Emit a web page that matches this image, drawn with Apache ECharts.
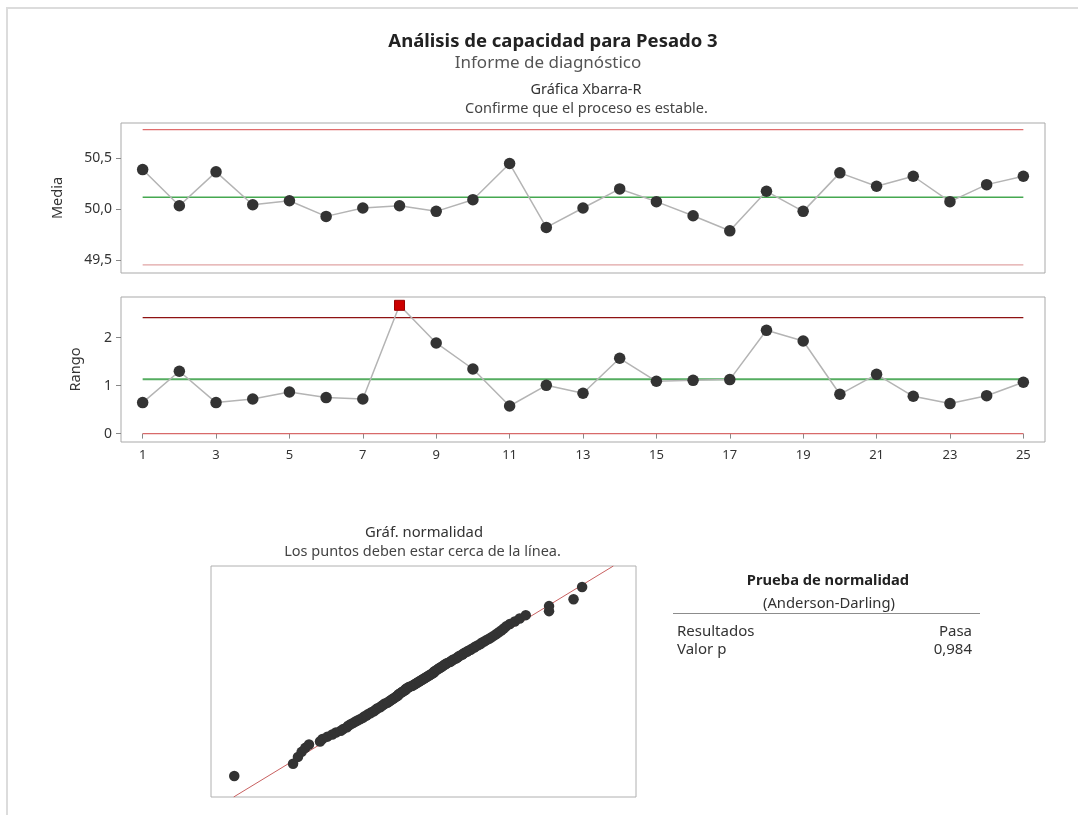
<!DOCTYPE html>
<html>
<head>
<meta charset="utf-8">
<script src="https://cdn.jsdelivr.net/npm/echarts@6/dist/echarts.min.js"></script>
<style>
html,body{margin:0;padding:0;background:#fff;}
#chart{width:1078px;height:815px;}
</style>
</head>
<body>
<div id="chart"></div>
<script>
// ---- Data ----
const subgroups = [1,2,3,4,5,6,7,8,9,10,11,12,13,14,15,16,17,18,19,20,21,22,23,24,25];
const xbarValues = [50.385, 50.032, 50.363, 50.042, 50.081, 49.928, 50.010, 50.032, 49.977, 50.091,
                    50.444, 49.820, 50.010, 50.196, 50.072, 49.934, 49.787, 50.173, 49.977, 50.353,
                    50.222, 50.320, 50.072, 50.238, 50.320];
const rangeValues = [0.646, 1.298, 0.646, 0.721, 0.867, 0.750, 0.721, 2.673, 1.888, 1.346,
                     0.575, 1.006, 0.840, 1.569, 1.090, 1.110, 1.125, 2.152, 1.930, 0.819,
                     1.235, 0.777, 0.625, 0.790, 1.069];
const xbarLimits = {ucl: 50.775, cl: 50.114, lcl: 49.454};
const rangeLimits = {ucl: 2.417, cl: 1.131, lcl: 0};
const xbarTicks = [49.5, 50.0, 50.5];
const rangeTicks = [0, 1, 2];
const xTicks = [1,3,5,7,9,11,13,15,17,19,21,23,25];
// individual observations (sorted) for the normality plot
const sampleValues = [
 48.57, 49.05, 49.09, 49.12, 49.15, 49.18, 49.27, 49.29, 49.33, 49.37,
 49.40, 49.44, 49.46, 49.49, 49.50, 49.52, 49.54, 49.56, 49.58, 49.60,
 49.62, 49.63, 49.65, 49.66, 49.68, 49.69, 49.71, 49.72, 49.73, 49.74,
 49.76, 49.77, 49.78, 49.79, 49.80, 49.82, 49.83, 49.84, 49.85, 49.86,
 49.87, 49.88, 49.89, 49.90, 49.91, 49.91, 49.92, 49.93, 49.94, 49.95,
 49.96, 49.97, 49.97, 49.98, 49.99, 50.00, 50.02, 50.03, 50.04, 50.05,
 50.06, 50.07, 50.08, 50.09, 50.10, 50.11, 50.12, 50.13, 50.14, 50.15,
 50.16, 50.17, 50.18, 50.19, 50.20, 50.20, 50.21, 50.22, 50.23, 50.24,
 50.25, 50.26, 50.27, 50.28, 50.29, 50.30, 50.31, 50.33, 50.34, 50.35,
 50.36, 50.38, 50.39, 50.40, 50.41, 50.43, 50.44, 50.45, 50.47, 50.48,
 50.50, 50.51, 50.53, 50.54, 50.56, 50.58, 50.59, 50.61, 50.63, 50.65,
 50.67, 50.69, 50.71, 50.73, 50.75, 50.77, 50.79, 50.82, 50.86, 50.90,
 50.95, 51.14, 51.14, 51.34, 51.41];
const fitMean = 50.115, fitSigma = 0.5;
const normTest = {result: 'Pasa', pValue: '0,984'};

// ---- helpers ----
function invNorm(p){
  const a=[-3.969683028665376e+01,2.209460984245205e+02,-2.759285104469687e+02,1.383577518672690e+02,-3.066479806614716e+01,2.506628277459239e+00];
  const b=[-5.447609879822406e+01,1.615858368580409e+02,-1.556989798598866e+02,6.680131188771972e+01,-1.328068155288572e+01];
  const c=[-7.784894002430293e-03,-3.223964580411365e-01,-2.400758277161838e+00,-2.549732539343734e+00,4.374664141464968e+00,2.938163982698783e+00];
  const d=[7.784695709041462e-03,3.224671290700398e-01,2.445134137142996e+00,3.754408661907416e+00];
  const pl=0.02425; let q,r;
  if(p<pl){q=Math.sqrt(-2*Math.log(p));return (((((c[0]*q+c[1])*q+c[2])*q+c[3])*q+c[4])*q+c[5])/((((d[0]*q+d[1])*q+d[2])*q+d[3])*q+1);}
  if(p<=1-pl){q=p-0.5;r=q*q;return (((((a[0]*r+a[1])*r+a[2])*r+a[3])*r+a[4])*r+a[5])*q/(((((b[0]*r+b[1])*r+b[2])*r+b[3])*r+b[4])*r+1);}
  q=Math.sqrt(-2*Math.log(1-p));return -(((((c[0]*q+c[1])*q+c[2])*q+c[3])*q+c[4])*q+c[5])/((((d[0]*q+d[1])*q+d[2])*q+d[3])*q+1);
}
const n = sampleValues.length;
const normData = sampleValues.slice().sort((a,b)=>a-b).map((v,i)=>[v, invNorm((i+1-0.3)/(n+0.4))]);
const zLo = -3.1, zHi = 3.1;
const fitLine = [[fitMean + fitSigma*zLo, zLo],[fitMean + fitSigma*zHi, zHi]];

const FONT = '"Noto Sans", "Open Sans", sans-serif';
const comma1 = v => v.toFixed(1).replace('.', ',');
const first = subgroups[0], last = subgroups[subgroups.length-1];
const hline = (val, color, xi, yi, w) => ({
  type:'line', xAxisIndex:xi, yAxisIndex:yi, data:[[first,val],[last,val]],
  symbol:'none', silent:true, lineStyle:{color:color, width:w||1.5}, z:2
});

const chart = echarts.init(document.getElementById('chart'), null, {renderer:'canvas'});
const frameColor = '#a9a9a9';
const labelStyle = {color:'#333', fontFamily:FONT, fontSize:14};

const rangeData = subgroups.map((s,i)=>{
  const v = rangeValues[i];
  if (v > rangeLimits.ucl) {
    return {value:[s,v], symbol:'rect', symbolSize:10, itemStyle:{color:'#cc0000', borderColor:'#990000', borderWidth:1}};
  }
  return [s,v];
});

const option = {
  animation:false,
  backgroundColor:'#fff',
  textStyle:{fontFamily:FONT},
  grid:[
    {left:121, top:123, width:924, height:150, show:true, borderColor:frameColor, borderWidth:1, backgroundColor:'transparent', outerBoundsMode:'none'},
    {left:121, top:297, width:924, height:145, show:true, borderColor:frameColor, borderWidth:1, backgroundColor:'transparent', outerBoundsMode:'none'},
    {left:211, top:566, width:425, height:231, show:true, borderColor:'#b0b0b0', borderWidth:1, backgroundColor:'transparent', outerBoundsMode:'none'}
  ],
  xAxis:[
    {type:'value', gridIndex:0, min:0.41, max:25.59, axisLine:{show:false}, axisTick:{show:false}, axisLabel:{show:false}, splitLine:{show:false}},
    {type:'value', gridIndex:1, min:0.41, max:25.59, axisLine:{show:false},
      axisTick:{show:true, length:5, customValues:xTicks, lineStyle:{color:'#888'}},
      axisLabel:{show:true, customValues:xTicks, margin:7, ...labelStyle, fontSize:13},
      splitLine:{show:false}},
    {type:'value', gridIndex:2, min:48.38, max:51.85, axisLine:{show:false}, axisTick:{show:false}, axisLabel:{show:false}, splitLine:{show:false}}
  ],
  yAxis:[
    {type:'value', gridIndex:0, min:49.375, max:50.84, axisLine:{show:false},
      axisTick:{show:true, length:5, customValues:xbarTicks, lineStyle:{color:'#888'}},
      axisLabel:{show:true, customValues:xbarTicks, formatter:comma1, margin:9, ...labelStyle},
      splitLine:{show:false},
      name:'Media', nameLocation:'middle', nameGap:56, nameRotate:90,
      nameTextStyle:{color:'#333', fontFamily:FONT, fontSize:14.5}},
    {type:'value', gridIndex:1, min:-0.175, max:2.846, axisLine:{show:false},
      axisTick:{show:true, length:5, customValues:rangeTicks, lineStyle:{color:'#888'}},
      axisLabel:{show:true, customValues:rangeTicks, margin:9, ...labelStyle},
      splitLine:{show:false},
      name:'Rango', nameLocation:'middle', nameGap:38, nameRotate:90,
      nameTextStyle:{color:'#333', fontFamily:FONT, fontSize:14.5}},
    {type:'value', gridIndex:2, min:zLo, max:zHi, axisLine:{show:false}, axisTick:{show:false}, axisLabel:{show:false}, splitLine:{show:false}}
  ],
  series:[
    hline(xbarLimits.ucl, '#e06c6c', 0, 0, 1.2),
    hline(xbarLimits.lcl, '#e0a4a4', 0, 0, 1.2),
    hline(xbarLimits.cl, '#45a850', 0, 0, 1.5),
    {type:'line', xAxisIndex:0, yAxisIndex:0, data:subgroups.map((s,i)=>[s,xbarValues[i]]),
      symbol:'circle', symbolSize:11.5, itemStyle:{color:'#333'}, lineStyle:{color:'#b4b4b4', width:1.5}, z:5, silent:true},
    hline(rangeLimits.ucl, '#8e1212', 1, 1, 1.3),
    hline(rangeLimits.lcl, '#d86a6a', 1, 1, 1.3),
    hline(rangeLimits.cl, '#55ad60', 1, 1, 2),
    {type:'line', xAxisIndex:1, yAxisIndex:1, data:rangeData,
      symbol:'circle', symbolSize:11.5, itemStyle:{color:'#333'}, lineStyle:{color:'#b4b4b4', width:1.5}, z:5, silent:true},
    {type:'line', xAxisIndex:2, yAxisIndex:2, data:fitLine, symbol:'none', silent:true,
      lineStyle:{color:'#c86060', width:1}, z:2},
    {type:'scatter', xAxisIndex:2, yAxisIndex:2, data:normData, symbol:'circle', symbolSize:10.5,
      itemStyle:{color:'#333', opacity:1}, z:5, silent:true}
  ],
  graphic:[
    {type:'rect', silent:true, shape:{x:7, y:8, width:1200, height:900}, style:{fill:'none', stroke:'#dcdcdc', lineWidth:2}},
    {type:'text', silent:true, x:553, y:41.5, style:{text:'Análisis de capacidad para Pesado 3', font:'bold 18.5px '+FONT, fill:'#222', align:'center', verticalAlign:'middle'}},
    {type:'text', silent:true, x:548, y:63, style:{text:'Informe de diagnóstico', font:'17px '+FONT, fill:'#555', align:'center', verticalAlign:'middle'}},
    {type:'text', silent:true, x:586, y:90, style:{text:'Gráfica Xbarra-R', font:'14.5px '+FONT, fill:'#333', align:'center', verticalAlign:'middle'}},
    {type:'text', silent:true, x:586.5, y:108.5, style:{text:'Confirme que el proceso es estable.', font:'14.5px '+FONT, fill:'#444', align:'center', verticalAlign:'middle'}},
    {type:'text', silent:true, x:424, y:532.5, style:{text:'Gráf. normalidad', font:'14.8px '+FONT, fill:'#333', align:'center', verticalAlign:'middle'}},
    {type:'text', silent:true, x:422.5, y:551.5, style:{text:'Los puntos deben estar cerca de la línea.', font:'14.5px '+FONT, fill:'#444', align:'center', verticalAlign:'middle'}},
    {type:'text', silent:true, x:828, y:580.5, style:{text:'Prueba de normalidad', font:'bold 14.7px '+FONT, fill:'#222', align:'center', verticalAlign:'middle'}},
    {type:'text', silent:true, x:829, y:603.5, style:{text:'(Anderson-Darling)', font:'14.8px '+FONT, fill:'#333', align:'center', verticalAlign:'middle'}},
    {type:'line', silent:true, shape:{x1:673, y1:613.5, x2:980, y2:613.5}, style:{stroke:'#8c8c8c', lineWidth:1}},
    {type:'text', silent:true, x:677, y:631.5, style:{text:'Resultados', font:'15px '+FONT, fill:'#333', align:'left', verticalAlign:'middle'}},
    {type:'text', silent:true, x:972, y:631.5, style:{text:normTest.result, font:'15px '+FONT, fill:'#333', align:'right', verticalAlign:'middle'}},
    {type:'text', silent:true, x:677, y:650, style:{text:'Valor p', font:'15px '+FONT, fill:'#333', align:'left', verticalAlign:'middle'}},
    {type:'text', silent:true, x:972, y:650, style:{text:normTest.pValue, font:'15px '+FONT, fill:'#333', align:'right', verticalAlign:'middle'}}
  ]
};
chart.setOption(option);
</script>
</body>
</html>
